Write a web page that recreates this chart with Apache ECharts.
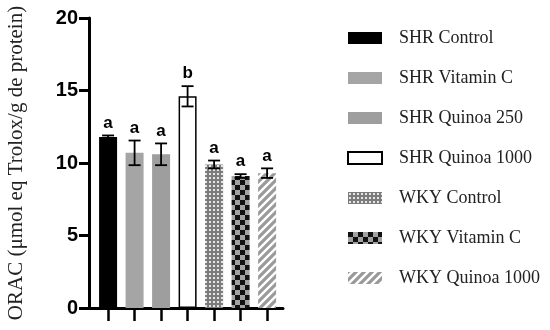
<!DOCTYPE html>
<html><head><meta charset="utf-8">
<script src="https://cdn.jsdelivr.net/npm/echarts@6/dist/echarts.min.js"></script>
<style>html,body{margin:0;padding:0;background:#fff}#c{width:550px;height:330px}</style>
</head><body><div id="c"></div>
<script>
const groups = ["SHR Control","SHR Vitamin C","SHR Quinoa 250","SHR Quinoa 1000","WKY Control","WKY Vitamin C","WKY Quinoa 1000"];
const values = [11.8, 10.7, 10.6, 14.6, 9.9, 9.1, 9.3];
const errors = [0.1, 0.85, 0.75, 0.7, 0.27, 0.13, 0.33];
const letters = ["a","a","a","b","a","a","a"];
const yTicks = [0, 5, 10, 15, 20];

function tile(w, h, draw){ const c=document.createElement('canvas'); c.width=w; c.height=h; draw(c.getContext('2d'), w, h); return c; }
const dots = tile(4,4,(g)=>{ g.fillStyle='#7c7c7c'; g.fillRect(0,0,4,4); g.fillStyle='#e6e6e6'; g.fillRect(1,1,2,2); });
const checker = tile(10,10,(g)=>{ g.fillStyle='#a2a2a2'; g.fillRect(0,0,10,10); g.fillStyle='#111'; g.fillRect(0,0,5,5); g.fillRect(5,5,5,5); });
const stripes = tile(8,8,(g)=>{ g.fillStyle='#ffffff'; g.fillRect(0,0,8,8); g.strokeStyle='#9a9a9a'; g.lineWidth=3.2;
  g.beginPath(); g.moveTo(-2,10); g.lineTo(10,-2); g.moveTo(-2,2); g.lineTo(2,-2); g.moveTo(6,10); g.lineTo(10,6); g.stroke(); });

const styles = [
  {color:'#000000'},
  {color:'#a5a5a5'},
  {color:'#9e9e9e'},
  {color:'#ffffff', borderColor:'#000', borderWidth:1.5},
  {color:{image:dots, repeat:'repeat'}},
  {color:{image:checker, repeat:'repeat'}},
  {color:{image:stripes, repeat:'repeat'}}
];

const chart = echarts.init(document.getElementById('c'), null, {renderer:'canvas'});
const barSeries = groups.map((g,i)=>({
  name:g, type:'bar', barWidth:18, barGap:'-100%',
  data:[[i, values[i]]], itemStyle:styles[i], z:2
}));
chart.setOption({
  animation:false,
  backgroundColor:'#fff',
  grid:{left:89, right:267, top:18, bottom:22, containLabel:false},
  legend:{
    orient:'vertical', left:342, top:24, itemWidth:34, itemHeight:12, itemGap:22,
    data:groups, icon:'rect',
    textStyle:{fontFamily:'Liberation Serif', fontSize:18, color:'#222', padding:[0,0,0,12]}
  },
  xAxis:{
    type:'value', min:-0.72, max:6.6,
    axisLine:{show:true, onZero:false, lineStyle:{color:'#000', width:3}},
    axisTick:{show:true, customValues:[0,1,2,3,4,5,6], length:13, lineStyle:{color:'#000', width:2.5}},
    axisLabel:{show:false}, splitLine:{show:false}
  },
  yAxis:{
    type:'value', min:0, max:20, interval:5,
    name:'ORAC (μmol eq Trolox/g de protein)', nameLocation:'middle', nameGap:62,
    nameTextStyle:{fontFamily:'Liberation Serif', fontSize:21, color:'#222'},
    axisLine:{show:true, onZero:false, lineStyle:{color:'#000', width:3}},
    axisTick:{show:true, length:10, lineStyle:{color:'#000', width:3}},
    axisLabel:{fontFamily:'Liberation Sans', fontWeight:'bold', fontSize:20, color:'#000', margin:11,
      customValues: yTicks},
    splitLine:{show:false}
  },
  series: barSeries.concat([{
    type:'custom', z:5,
    data: values.map((v,i)=>[i, v, errors[i]]),
    renderItem:(params, api)=>{
      const i=api.value(0), v=api.value(1), e=api.value(2);
      const top=api.coord([i, v+e]), bot=api.coord([i, v-e]);
      const cw=6;
      return {type:'group', children:[
        {type:'line', shape:{x1:top[0], y1:top[1], x2:bot[0], y2:bot[1]}, style:{stroke:'#000', lineWidth:1.8}},
        {type:'line', shape:{x1:top[0]-cw, y1:top[1], x2:top[0]+cw, y2:top[1]}, style:{stroke:'#000', lineWidth:1.8}},
        {type:'line', shape:{x1:bot[0]-cw, y1:bot[1], x2:bot[0]+cw, y2:bot[1]}, style:{stroke:'#000', lineWidth:1.8}},
        {type:'text', x:top[0], y:top[1]-4, style:{text:letters[params.dataIndex], fill:'#000',
          font:'bold 17px "Liberation Sans"', align:'center', verticalAlign:'bottom'}}
      ]};
    }
  }])
});
</script></body></html>
